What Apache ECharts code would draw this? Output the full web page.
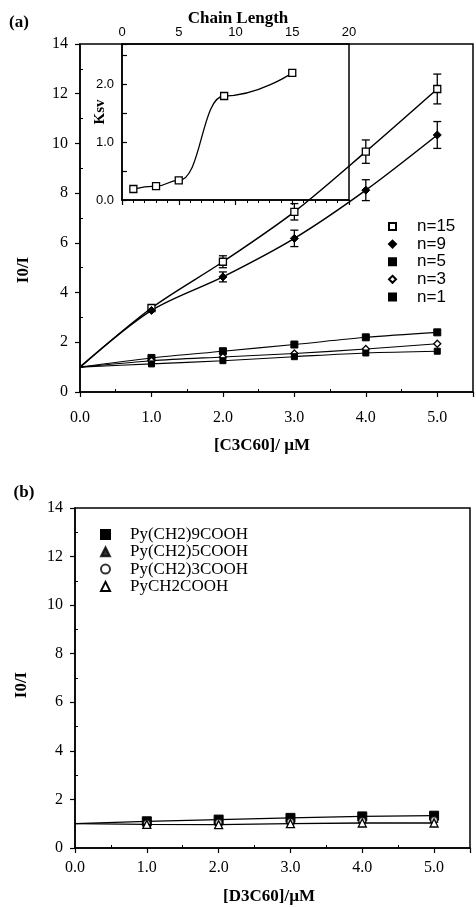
<!DOCTYPE html>
<html lang="en">
<head>
  <meta charset="UTF-8">
  <title>I0/I vs concentration</title>
  <style>
    html,body{margin:0;padding:0;background:#fff;}
    #main{width:476px;height:907px;}
  </style>
</head>
<body>
  <div id="main"></div>
  <script src="https://cdn.jsdelivr.net/npm/echarts@6/dist/echarts.min.js"></script>
  <script>
    // panel (a): I0/I vs [C3C60]
    const conc = [0, 1, 2, 3, 4, 5];
    const n15 = [1.0, 3.38, 5.24, 7.25, 9.67, 12.19];
    const n9 = [1.0, 3.28, 4.63, 6.18, 8.12, 10.34];
    const n5 = [1.0, 1.37, 1.64, 1.91, 2.2, 2.4];
    const n3 = [1.0, 1.26, 1.41, 1.55, 1.73, 1.94];
    const n1 = [1.0, 1.13, 1.26, 1.42, 1.57, 1.64];
    const n15Err = [0, 0, 0.24, 0.33, 0.47, 0.6];
    const n9Err = [0, 0, 0.2, 0.33, 0.42, 0.54];

    // inset: Ksv vs chain length
    const chainLen = [1, 3, 5, 9, 15];
    const ksv = [0.19, 0.24, 0.34, 1.8, 2.2];

    // panel (b): I0/I vs [D3C60]
    const concB = [0, 1, 2, 3, 4, 5];
    const py9 = [1.0, 1.1, 1.17, 1.24, 1.3, 1.33];
    const py5 = [1.0, 1.05, 1.1, 1.15, 1.2, 1.22];
    const py3 = [1.0, 1.02, 1.05, 1.08, 1.12, 1.15];
    const py1 = [1.0, 0.97, 0.96, 1.0, 1.03, 1.03];

    const serif = 'Liberation Serif';
    const sans = 'Liberation Sans';

    const pairs = (xs, ys) => xs.map((x, i) => i === 0 ? {value: [x, ys[i]], symbol: 'none'} : [x, ys[i]]);
    const errData = (xs, ys, es) => xs.map((x, i) => [x, ys[i], es[i]]).filter(d => d[2] > 0);

    const chart = echarts.init(document.getElementById('main'));

    function mainX(idx, labelMargin) {
      return {
        type: 'value', gridIndex: idx, min: 0, max: 5.5, interval: 1,
        axisLine: {lineStyle: {color: '#000', width: 1.5}},
        axisTick: {inside: false, length: 5, lineStyle: {color: '#000', width: 1.2}},
        minorTick: {show: true, splitNumber: 2, length: -3, lineStyle: {color: '#000', width: 1}},
        axisLabel: {
          margin: labelMargin, color: '#000', fontFamily: serif, fontSize: 16,
          formatter: v => Number.isInteger(v) ? v.toFixed(1) : ''
        },
        splitLine: {show: false}
      };
    }
    function mainY(idx) {
      return {
        type: 'value', gridIndex: idx, min: 0, max: 14, interval: 2,
        axisLine: {lineStyle: {color: '#000', width: 1.5}},
        axisTick: {inside: false, length: 5, lineStyle: {color: '#000', width: 1.2}},
        minorTick: {show: true, splitNumber: 2, length: -3, lineStyle: {color: '#000', width: 1}},
        axisLabel: {margin: 12, color: '#000', fontFamily: serif, fontSize: 16},
        splitLine: {show: false}
      };
    }

    const openStyle = {color: '#fff', borderColor: '#000', borderWidth: 1.3};
    const fillStyle = {color: '#000', borderColor: '#000', borderWidth: 1};

    const errRender = function (params, api) {
      const x = api.value(0), y = api.value(1), e = api.value(2);
      const hi = api.coord([x, y + e]);
      const lo = api.coord([x, y - e]);
      const w = 4;
      const st = {stroke: '#000', lineWidth: 1.3};
      return {
        type: 'group',
        children: [
          {type: 'line', shape: {x1: hi[0], y1: hi[1], x2: lo[0], y2: lo[1]}, style: st},
          {type: 'line', shape: {x1: hi[0] - w, y1: hi[1], x2: hi[0] + w, y2: hi[1]}, style: st},
          {type: 'line', shape: {x1: lo[0] - w, y1: lo[1], x2: lo[0] + w, y2: lo[1]}, style: st}
        ]
      };
    };

    const option = {
      animation: false,
      backgroundColor: '#fff',
      grid: [
        {left: 80, top: 44, width: 395, height: 348, show: true, borderColor: '#000', borderWidth: 1.5},
        {left: 122, top: 44, width: 227, height: 156, show: true, borderColor: '#000', borderWidth: 1.5},
        {left: 75, top: 508, width: 395, height: 340, show: true, borderColor: '#000', borderWidth: 1.5}
      ],
      xAxis: [
        mainX(0, 18),
        {
          type: 'value', gridIndex: 1, position: 'top', min: 0, max: 20, interval: 5,
          axisLine: {lineStyle: {color: '#000', width: 1.5}},
          axisTick: {inside: true, length: 5, lineStyle: {color: '#000', width: 1.2}},
          minorTick: {show: true, splitNumber: 5, length: 3, lineStyle: {color: '#000', width: 1}},
          axisLabel: {margin: 5, color: '#000', fontFamily: sans, fontSize: 13},
          splitLine: {show: false}
        },
        mainX(2, 12)
      ],
      yAxis: [
        mainY(0),
        {
          type: 'value', gridIndex: 1, min: 0, max: 2.7, interval: 0.5,
          axisLine: {lineStyle: {color: '#000', width: 1.5}},
          axisTick: {inside: true, length: 5, lineStyle: {color: '#000', width: 1.2}},
          axisLabel: {
            margin: 8, color: '#000', fontFamily: sans, fontSize: 13,
            formatter: v => Number.isInteger(v) ? v.toFixed(1) : ''
          },
          splitLine: {show: false}
        },
        mainY(2)
      ],
      legend: [
        {
          selectedMode: false, orient: 'vertical', left: 383, top: 213,
          itemWidth: 7, itemHeight: 7, itemGap: 0.6,
          formatter: name => '{t|' + name + '}',
          textStyle: {
            color: '#000',
            rich: {t: {fontFamily: sans, fontSize: 17, color: '#000', lineHeight: 16, padding: [0, 0, 0, 16]}}
          },
          data: [
            {name: 'n=15', icon: 'rect'},
            {name: 'n=9', icon: 'diamond'},
            {name: 'n=5', icon: 'rect'},
            {name: 'n=3', icon: 'diamond'},
            {name: 'n=1', icon: 'rect'}
          ]
        },
        {
          selectedMode: false, orient: 'vertical', left: 95, top: 521,
          itemWidth: 9, itemHeight: 9, itemGap: 0.3,
          formatter: name => '{t|' + name + '}',
          textStyle: {
            color: '#000',
            rich: {t: {fontFamily: serif, fontSize: 17, color: '#000', lineHeight: 15, padding: [0, 0, 0, 15]}}
          },
          data: [
            {name: 'Py(CH2)9COOH', icon: 'rect'},
            {name: 'Py(CH2)5COOH', icon: 'triangle'},
            {name: 'Py(CH2)3COOH', icon: 'circle'},
            {name: 'PyCH2COOH', icon: 'triangle'}
          ]
        }
      ],
      graphic: [
        {type: 'text', x: 19, y: 23, style: {text: '(a)', font: 'bold 17px "Liberation Serif"', fill: '#000', align: 'center', verticalAlign: 'middle'}},
        {type: 'text', x: 24, y: 493, style: {text: '(b)', font: 'bold 17px "Liberation Serif"', fill: '#000', align: 'center', verticalAlign: 'middle'}},
        {type: 'text', x: 238, y: 19, style: {text: 'Chain Length', font: 'bold 17px "Liberation Serif"', fill: '#000', align: 'center', verticalAlign: 'middle'}},
        {type: 'text', x: 100, y: 112, rotation: Math.PI / 2, style: {text: 'Ksv', font: 'bold 15px "Liberation Serif"', fill: '#000', align: 'center', verticalAlign: 'middle'}},
        {type: 'text', x: 24, y: 270, rotation: Math.PI / 2, style: {text: 'I0/I', font: 'bold 17px "Liberation Serif"', fill: '#000', align: 'center', verticalAlign: 'middle'}},
        {type: 'text', x: 22, y: 685, rotation: Math.PI / 2, style: {text: 'I0/I', font: 'bold 17px "Liberation Serif"', fill: '#000', align: 'center', verticalAlign: 'middle'}},
        {type: 'text', x: 262, y: 446, style: {text: '[C3C60]/ µM', font: 'bold 17px "Liberation Serif"', fill: '#000', align: 'center', verticalAlign: 'middle'}},
        {type: 'text', x: 269, y: 897, style: {text: '[D3C60]/µM', font: 'bold 17px "Liberation Serif"', fill: '#000', align: 'center', verticalAlign: 'middle'}}
      ],
      series: [
        {
          type: 'custom', xAxisIndex: 0, yAxisIndex: 0, z: 1,
          renderItem: errRender,
          data: errData(conc, n15, n15Err).concat(errData(conc, n9, n9Err))
        },
        {
          name: 'n=15', type: 'line', xAxisIndex: 0, yAxisIndex: 0, z: 3, smooth: 0.3,
          symbol: 'rect', symbolSize: 7, itemStyle: openStyle,
          lineStyle: {color: '#000', width: 1.5}, data: pairs(conc, n15)
        },
        {
          name: 'n=9', type: 'line', xAxisIndex: 0, yAxisIndex: 0, z: 3, smooth: 0.3,
          symbol: 'diamond', symbolSize: 8, itemStyle: fillStyle,
          lineStyle: {color: '#000', width: 1.5}, data: pairs(conc, n9)
        },
        {
          name: 'n=5', type: 'line', xAxisIndex: 0, yAxisIndex: 0, z: 3, smooth: 0.3,
          symbol: 'rect', symbolSize: 7, itemStyle: fillStyle,
          lineStyle: {color: '#000', width: 1.1}, data: pairs(conc, n5)
        },
        {
          name: 'n=3', type: 'line', xAxisIndex: 0, yAxisIndex: 0, z: 3, smooth: 0.3,
          symbol: 'diamond', symbolSize: 7, itemStyle: openStyle,
          lineStyle: {color: '#000', width: 1.1}, data: pairs(conc, n3)
        },
        {
          name: 'n=1', type: 'line', xAxisIndex: 0, yAxisIndex: 0, z: 3, smooth: 0.3,
          symbol: 'rect', symbolSize: 6, itemStyle: fillStyle,
          lineStyle: {color: '#000', width: 1.1}, data: pairs(conc, n1)
        },
        {
          name: 'Ksv', type: 'line', xAxisIndex: 1, yAxisIndex: 1, z: 3,
          smooth: 0.5, smoothMonotone: 'x',
          symbol: 'rect', symbolSize: 7, itemStyle: openStyle,
          lineStyle: {color: '#000', width: 1.3},
          data: chainLen.map((c, i) => [c, ksv[i]])
        },
        {
          name: 'Py(CH2)9COOH', type: 'line', xAxisIndex: 2, yAxisIndex: 2, z: 3,
          symbol: 'rect', symbolSize: 9, itemStyle: fillStyle,
          lineStyle: {color: '#000', width: 1.3}, data: pairs(concB, py9)
        },
        {
          name: 'Py(CH2)5COOH', type: 'scatter', xAxisIndex: 2, yAxisIndex: 2, z: 4,
          symbol: 'triangle', symbolSize: 8, itemStyle: fillStyle,
          data: concB.slice(1).map((x, i) => [x, py5[i + 1]])
        },
        {
          name: 'Py(CH2)3COOH', type: 'scatter', xAxisIndex: 2, yAxisIndex: 2, z: 4,
          symbol: 'circle', symbolSize: 7, itemStyle: openStyle,
          data: concB.slice(1).map((x, i) => [x, py3[i + 1]])
        },
        {
          name: 'PyCH2COOH', type: 'line', xAxisIndex: 2, yAxisIndex: 2, z: 5,
          symbol: 'triangle', symbolSize: 8, itemStyle: openStyle,
          lineStyle: {color: '#000', width: 1.3}, data: pairs(concB, py1)
        }
      ]
    };
    chart.setOption(option);
  </script>
</body>
</html>
